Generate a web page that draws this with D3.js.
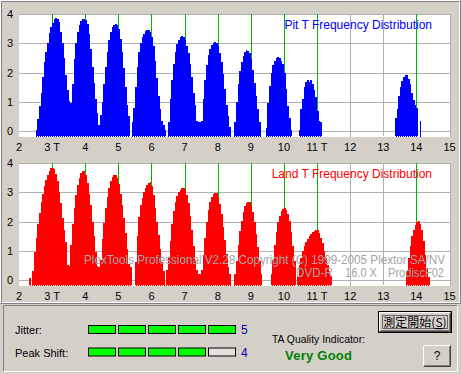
<!DOCTYPE html>
<html><head><meta charset="utf-8">
<script src="https://cdn.jsdelivr.net/npm/d3@7"></script>
<style>
body{margin:0;background:#d4d0c8;}
svg{display:block;font-family:"Liberation Sans",Arial,sans-serif;}
</style>
</head><body>
<svg id="chart" width="461" height="374"></svg>
<script>
// ---------- data ----------
const binWidth = 0.05;
const pitStarts = [2.50, 3.60, 4.45, 5.40, 6.50, 7.50, 8.50, 9.45, 10.45, 13.35, 14.10];
const pitValues = [
  [0.05,0.4,0.85,1.3,1.85,2.35,2.7,3.0,3.35,3.55,3.7,3.82,3.85,3.84,3.72,3.4,3.0,2.5,1.9,1.4,1.02,0.95],
  [1.6,2.45,3.0,3.4,3.62,3.75,3.82,3.83,3.8,3.65,3.3,2.8,2.2,1.65,1.1,0.6,0.2],
  [0.55,1.0,1.6,2.2,2.7,3.1,3.38,3.55,3.63,3.66,3.62,3.5,3.15,2.7,2.15,1.5,0.9,0.5],
  [0.3,0.8,1.5,2.2,2.7,3.0,3.2,3.33,3.42,3.47,3.47,3.4,3.2,2.9,2.4,1.8,1.2,0.75,0.35,0.2,0.05],
  [0.3,1.1,1.75,2.3,2.7,2.98,3.12,3.2,3.25,3.23,3.12,2.92,2.65,2.3,1.85,1.3,0.9,0.35,0.3,0.3],
  [0.35,1.1,1.75,2.25,2.6,2.8,2.93,3.0,3.03,3.0,2.9,2.68,2.35,1.95,1.45,0.9,0.5,0.12],
  [0.3,1.0,1.6,2.05,2.35,2.58,2.7,2.76,2.75,2.66,2.45,2.1,1.65,1.2,0.75,0.3],
  [0.1,0.95,1.55,1.98,2.24,2.4,2.48,2.52,2.5,2.4,2.3,2.0,1.45,0.85,0.45,0.05],
  [0.05,0.75,1.1,1.5,1.68,1.73,1.68,1.74,1.62,1.4,1.15,0.7,0.35,0.3],
  [0.45,0.75,1.2,1.5,1.72,1.83,1.9,1.9,1.78,1.6,1.3,1.05,0.88,0.8],
  [0.33]
];
const landStarts = [2.30, 2.40, 3.55, 4.45, 5.50, 6.45, 7.50, 8.50, 9.60, 10.40, 13.70];
const landValues = [
  [0.08],
  [0.3,0.95,1.45,1.9,2.3,2.65,2.95,3.2,3.42,3.6,3.74,3.82,3.84,3.78,3.63,3.37,3.02,2.62,2.12,1.7,1.3,0.5,0.48],
  [1.2,1.9,2.45,2.9,3.25,3.5,3.66,3.74,3.73,3.6,3.33,2.95,2.55,2.0,1.5,0.95,0.48,0.46],
  [0.7,1.4,1.95,2.45,2.85,3.15,3.38,3.52,3.58,3.58,3.5,3.28,2.95,2.58,2.12,1.6,1.05,0.55,0.45],
  [0.6,1.5,2.15,2.55,2.8,3.0,3.15,3.26,3.33,3.36,3.2,2.9,2.45,2.0,1.55,1.05,0.6,0.3],
  [0.35,0.8,1.35,1.9,2.35,2.66,2.86,3.0,3.08,3.13,3.16,3.08,2.9,2.62,2.2,1.7,1.15,0.7,0.35,0.22,0.2],
  [0.35,0.85,1.45,2.0,2.38,2.66,2.84,2.93,2.98,2.96,2.84,2.6,2.26,1.82,1.36,0.9,0.45,0.22],
  [0.2,0.65,1.2,1.68,2.03,2.32,2.52,2.64,2.68,2.67,2.56,2.34,2.0,1.58,1.12,0.66,0.22],
  [0.2,0.7,1.2,1.65,1.98,2.2,2.35,2.44,2.46,2.4,2.25,2.02,1.65,1.15,0.65],
  [0.1,0.5,0.75,0.98,1.15,1.3,1.4,1.5,1.58,1.64,1.68,1.71,1.7,1.6,1.45,1.25,1.0,0.75,0.5,0.3,0.12],
  [0.3,0.75,1.15,1.5,1.72,1.88,1.98,2.03,1.92,1.7,1.35,0.85,0.4,0.1]
];
const xTicks = [2,3,4,5,6,7,8,9,10,11,12,13,14,15];
const xTickLabels = ["2","3 T","4","5","6","7","8","9","10","11 T","12","13","14","15"];
const yTicks = [0,1,2,3,4];
const markT = [3,4,5,6,7,8,9,10,11,14];
const chartTitles = ["Pit T Frequency Distribution", "Land T Frequency Distribution"];
const qualityLabels = ["Jitter:", "Peak Shift:"];
const qualityLevels = [5, 4];
const qualityMax = 5;
const qualityText = "Very Good";

// ---------- drawing ----------
const svg = d3.select("#chart");
const bg = "#d4d0c8";
svg.append("rect").attr("width",461).attr("height",374).attr("fill",bg);

const x = d3.scaleLinear().domain([2,15]).range([19,449.5]);
const px = v => Math.round(v) + 0.5;

function bevel(x0,y0,x1,y1,tl,br){
  svg.append("path").attr("d",`M${x0+.5},${y1-.5}V${y0+.5}H${x1-.5}`).attr("stroke",tl).attr("fill","none");
  svg.append("path").attr("d",`M${x0+.5},${y1-.5}H${x1-.5}V${y0+.5}`).attr("stroke",br).attr("fill","none");
}
bevel(0,0,461,304,"#ffffff","#808080");
bevel(1,1,460,303,"#808080","#ffffff");

function drawChart(top, starts, values, color, title, watermark){
  const y = d3.scaleLinear().domain([0,4]).range([top+117, top]);
  const bottom = y(0) + 6;
  const g = svg.append("g");
  g.append("rect").attr("x",19).attr("y",top).attr("width",432).attr("height",bottom-top).attr("fill","#fff");
  // grid
  g.selectAll(".hg").data(yTicks).join("line")
    .attr("x1",19).attr("x2",451).attr("y1",d=>px(y(d))).attr("y2",d=>px(y(d)))
    .attr("stroke","#b0b0b0");
  g.selectAll(".vg").data(xTicks.filter(t=>t>2)).join("line")
    .attr("x1",d=>px(x(d))).attr("x2",d=>px(x(d))).attr("y1",top).attr("y2",bottom)
    .attr("stroke","#b0b0b0");
  g.selectAll(".gm").data(markT).join("line")
    .attr("x1",d=>px(x(d))).attr("x2",d=>px(x(d))).attr("y1",top).attr("y2",bottom)
    .attr("stroke","#00b400");
  // bars
  const area = d3.area().x(d=>x(d[0])).y0(bottom).y1(d=>y(d[1])).curve(d3.curveStepAfter);
  starts.forEach((s,i)=>{
    const vals = values[i];
    const pts = vals.map((v,j)=>[s+j*binWidth, v]);
    pts.push([s+vals.length*binWidth, vals[vals.length-1]]);
    g.append("path").attr("d",area(pts)).attr("fill",color).attr("shape-rendering","crispEdges");
  });
  g.append("line").attr("x1",19).attr("x2",451).attr("y1",bottom-0.5).attr("y2",bottom-0.5)
    .attr("stroke","#fff").attr("stroke-dasharray","1,1");
  // title
  g.append("text").attr("x",432).attr("y",top+15).attr("text-anchor","end")
    .attr("font-size",12).attr("fill",color).text(title);
  if (watermark){
    const wm = g.append("g").attr("fill","#a4a4a4").attr("font-size",12);
    wm.append("text").attr("x",84).attr("y",top+101).attr("textLength",361).attr("lengthAdjust","spacingAndGlyphs")
      .text("PlexTools Professional V2.28 Copyright (C) 1999-2005 Plextor SA/NV");
    wm.append("text").attr("x",296).attr("y",top+114).attr("textLength",37).attr("lengthAdjust","spacingAndGlyphs").text("DVD-R");
    wm.append("text").attr("x",345).attr("y",top+114).attr("textLength",32).attr("lengthAdjust","spacingAndGlyphs").text("16.0 X");
    wm.append("text").attr("x",388).attr("y",top+114).attr("textLength",56).attr("lengthAdjust","spacingAndGlyphs").text("ProdiscF02");
  }
  // axis labels
  g.selectAll(".yl").data(yTicks).join("text")
    .attr("x",13).attr("y",d=>y(d)+4).attr("text-anchor","end").attr("font-size",11).attr("fill","#000")
    .text(d=>d);
  g.selectAll(".xl").data(xTicks).join("text")
    .attr("x",d=>x(d)).attr("y",y(0)+20).attr("text-anchor","middle").attr("font-size",11).attr("fill","#000")
    .text((d,i)=>xTickLabels[i]);
}
drawChart(14, pitStarts, pitValues, "#0000ff", chartTitles[0], false);
drawChart(163, landStarts, landValues, "#ff0000", chartTitles[1], true);

// ---------- bottom panel ----------
bevel(3,305,458,372,"#808080","#ffffff");
const rowY = [326, 348.5];
qualityLabels.forEach((lab,r)=>{
  svg.append("text").attr("x",15).attr("y",rowY[r]+8).attr("font-size",11).attr("fill","#000").text(lab);
  for (let i=0;i<qualityMax;i++){
    svg.append("rect").attr("x",88.5+i*30).attr("y",rowY[r]-0.5).attr("width",27).attr("height",8)
      .attr("fill", i<qualityLevels[r] ? "#00ff00" : "#e4e2dc").attr("stroke","#000");
  }
  svg.append("text").attr("x",241).attr("y",rowY[r]+8).attr("font-size",12).attr("fill","#0000b0").text(qualityLevels[r]);
});
svg.append("text").attr("x",272).attr("y",343).attr("font-size",11).attr("textLength",93)
  .attr("lengthAdjust","spacingAndGlyphs").attr("fill","#000").text("TA Quality Indicator:");
svg.append("text").attr("x",285).attr("y",360).attr("font-size",13).attr("font-weight","bold")
  .attr("textLength",67).attr("fill","#008000").text(qualityText);

// buttons
svg.append("rect").attr("x",378.5).attr("y",311.5).attr("width",73).attr("height",21).attr("fill",bg).attr("stroke","#000");
bevel(379,312,451,332,"#ffffff","#404040");
bevel(380,313,450,331,bg,"#808080");
svg.append("rect").attr("x",382.5).attr("y",315.5).attr("width",65).attr("height",13).attr("fill","none")
  .attr("stroke","#000").attr("stroke-dasharray","1,1");
const bt = svg.append("text").attr("x",415).attr("y",327).attr("text-anchor","middle")
  .attr("font-family","'Noto Sans CJK JP',sans-serif").attr("font-size",12).attr("fill","#000");
bt.append("tspan").text("測定開始(");
bt.append("tspan").attr("text-decoration","underline").text("S");
bt.append("tspan").text(")");

svg.append("rect").attr("x",423).attr("y",345).attr("width",28).attr("height",22).attr("fill",bg);
bevel(423,345,451,367,"#ffffff","#404040");
bevel(424,346,450,366,bg,"#808080");
svg.append("text").attr("x",437).attr("y",360).attr("text-anchor","middle").attr("font-size",12).attr("fill","#000").text("?");
</script>
</body></html>
